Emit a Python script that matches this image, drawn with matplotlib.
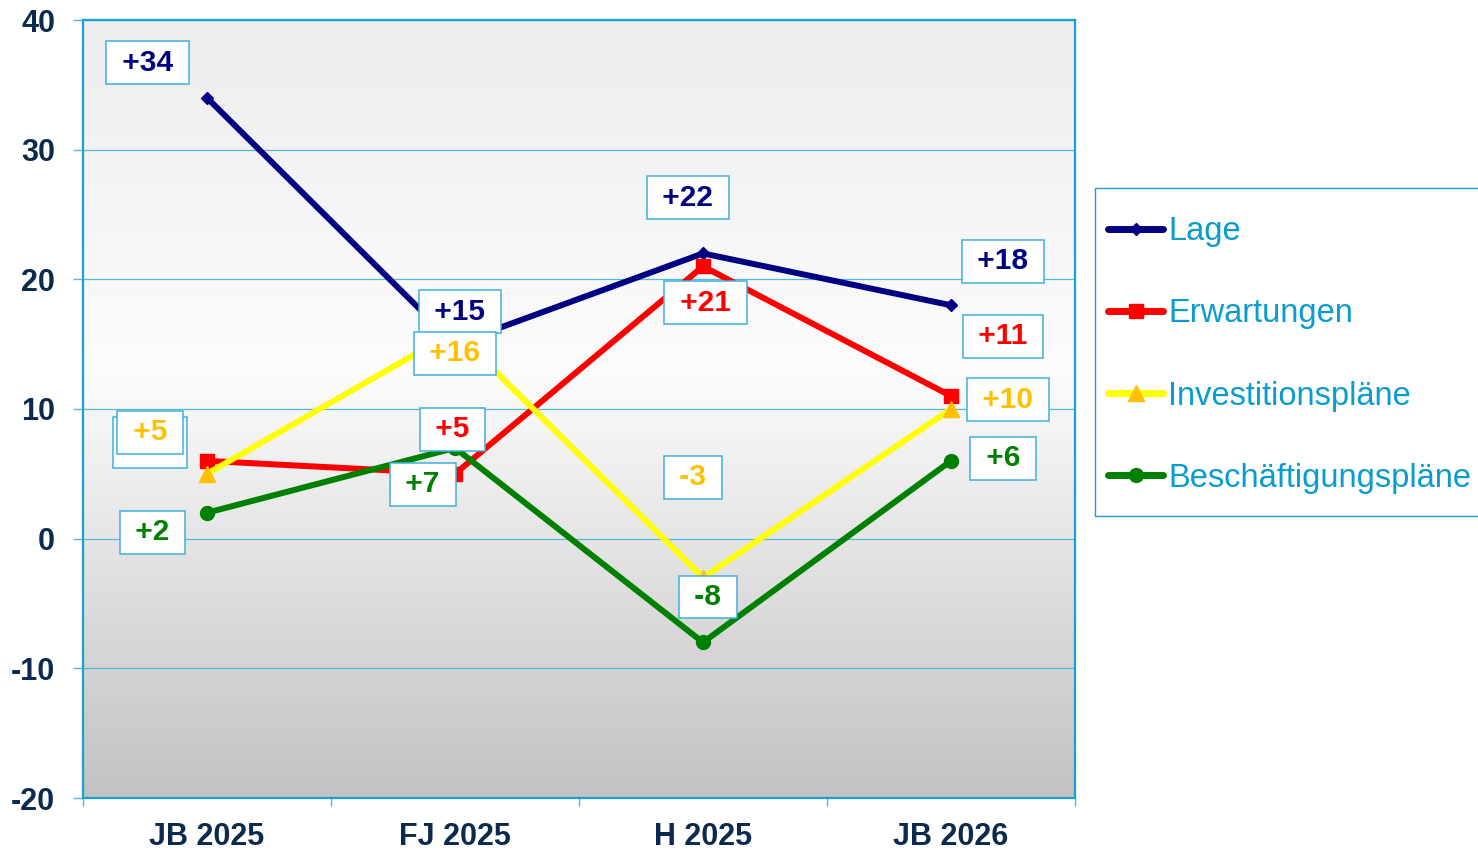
import matplotlib
matplotlib.use('Agg')
import matplotlib.pyplot as plt
import numpy as np
from matplotlib.colors import LinearSegmentedColormap
from matplotlib.patches import Rectangle

# data
categories = ['JB 2025', 'FJ 2025', 'H 2025', 'JB 2026']
lage = [34, 15, 22, 18]
erwartungen = [6, 5, 21, 11]
investitionen = [5, 16, -3, 10]
beschaeftigung = [2, 7, -8, 6]
series_names = ['Lage', 'Erwartungen', 'Investitionspläne', 'Beschäftigungspläne']

# label box offsets (data units) relative to each point
label_dx = [[-0.24, 0.02, -0.06, 0.21],
            [-0.23, -0.01, 0.01, 0.21],
            [-0.23, 0.00, -0.04, 0.23],
            [-0.22, -0.13, 0.02, 0.21]]
label_dy = [[2.7, 2.5, 4.3, 3.4],
            [1.4, 3.45, -2.8, 4.6],
            [3.2, -1.7, 7.75, 0.7],
            [-1.5, -2.8, 3.5, 0.2]]

line_colors = ['#000080', '#ff0000', '#ffff00', '#008000']
marker_colors = ['#000080', '#ff0000', '#ffc000', '#008000']
text_colors = ['#000080', '#ff0000', '#ffc000', '#008000']
markers = ['D', 's', '^', 'o']
marker_sizes = [6, 10, 11, 10]
label_z = [[6, 6, 6, 6], [5, 7, 6, 6], [6, 7, 6, 6], [6, 6, 7, 6]]
# the hidden Erwartungen label at JB 2025 sits under a slightly bigger box
label_pad = [[0.25] * 4, [0.38, 0.25, 0.25, 0.25], [0.25] * 4, [0.25] * 4]

blue = '#1a9fd4'
grid_blue = '#55b9de'
tick_color = '#0c2a4e'

plt.rcParams['font.family'] = ['Liberation Sans', 'DejaVu Sans']
plt.rcParams['axes.unicode_minus'] = False

fig = plt.figure(figsize=(14.78, 8.5), dpi=100)
ax = fig.add_axes([83 / 1478, 1 - 798 / 850, (1075 - 83) / 1478, (798 - 20) / 850])

# gradient background
cmap = LinearSegmentedColormap.from_list('bg', [(0, '#c2c2c2'), (0.55, '#fcfcfc'), (1, '#ededed')])
grad = np.linspace(0, 1, 256).reshape(-1, 1)
ax.imshow(grad, extent=[-0.5, 3.5, -20, 40], origin='lower', aspect='auto', cmap=cmap, zorder=0)

x = np.arange(len(categories))
all_series = [lage, erwartungen, investitionen, beschaeftigung]
for i, vals in enumerate(all_series):
    ax.plot(x, vals, color=line_colors[i], lw=4.3, marker=markers[i], ms=marker_sizes[i],
            mfc=marker_colors[i], mec=marker_colors[i], label=series_names[i], zorder=3,
            solid_capstyle='round')
    for j, v in enumerate(vals):
        ax.text(x[j] + label_dx[i][j], v + label_dy[i][j], ' %+d ' % v,
                color=text_colors[i], fontsize=21.5, fontweight='bold', ha='center', va='center',
                zorder=label_z[i][j],
                bbox=dict(boxstyle='square,pad=%.2f' % label_pad[i][j], fc='white', ec='#3eb0dc', lw=1.1))

ax.set_xlim(-0.5, 3.5)
ax.set_ylim(-20, 40)
ax.set_yticks(np.arange(-20, 41, 10))
ax.set_xticks(x)
ax.set_xticklabels(categories)
ax.set_xticks(np.arange(-0.5, 3.6, 1), minor=True)
ax.yaxis.grid(True, color=grid_blue, lw=0.9)
ax.set_axisbelow(True)
for sp in ax.spines.values():
    sp.set_color(blue)
    sp.set_linewidth(1.6)
    sp.set_zorder(8)
ax.tick_params(axis='x', which='major', length=0, pad=17, labelsize=22, labelcolor=tick_color)
ax.tick_params(axis='x', which='minor', length=6, width=1, color=grid_blue, direction='out')
ax.tick_params(axis='y', length=7, width=1, color=grid_blue, pad=13, labelsize=22, labelcolor=tick_color)
for lbl in ax.get_xticklabels() + ax.get_yticklabels():
    lbl.set_fontweight('bold')

# legend frame drawn separately so it can run off the right edge like the original
fig.add_artist(Rectangle((1095 / 1478, 1 - 516 / 850), 0.3, (516 - 188) / 850,
                         transform=fig.transFigure, fill=False, ec=blue, lw=1))
leg = fig.legend(loc='center left', bbox_to_anchor=(1108 / 1478, 1 - 355 / 850), fontsize=23.5,
                 handlelength=1.7, handletextpad=0.15, labelspacing=1.57, borderpad=0,
                 borderaxespad=0, frameon=False)
for t in leg.get_texts():
    t.set_color('#0a9ccf')
for h in leg.get_lines():
    h.set_linewidth(5)

fig.savefig('out.png', dpi=100)
